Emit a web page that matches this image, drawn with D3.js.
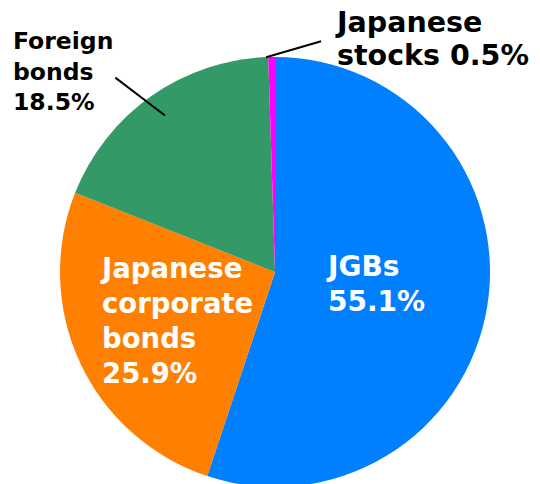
<!DOCTYPE html>
<html>
<head>
<meta charset="utf-8">
<script src="https://cdn.jsdelivr.net/npm/d3@7"></script>
<style>
  body { margin: 0; background: #fff; }
  text { font-family: 'DejaVu Sans', Verdana, sans-serif; font-weight: bold; }
</style>
</head>
<body>
<svg id="chart" width="540" height="484"></svg>
<script>
// shares of the portfolio, clockwise from 12 o'clock
var categories = ['JGBs', 'Japanese corporate bonds', 'Foreign bonds', 'Japanese stocks']
var shares = [55.1, 25.9, 18.5, 0.5]
var colors = ['#0080ff', '#ff8000', '#339966', '#ff00ff']
var labelLines = [
  ['JGBs', '55.1%'],
  ['Japanese', 'corporate', 'bonds', '25.9%'],
  ['Foreign', 'bonds', '18.5%'],
  ['Japanese', 'stocks 0.5%']
]

var width = 540, height = 484
var cx = 275, cy = 272, radius = 215

var svg = d3.select('#chart')
var g = svg.append('g').attr('transform', 'translate(' + cx + ',' + cy + ')')

var data = categories.map(function(c, i) {
  return { label: c, value: shares[i], lines: labelLines[i], color: colors[i] }
})

var pie = d3.pie().sort(null).value(function(d) { return d.value })
var arcs = pie(data)

var path = d3.arc().innerRadius(0).outerRadius(radius)

g.selectAll('.slice')
  .data(arcs)
  .enter()
  .append('path')
  .attr('class', 'slice')
  .attr('d', path)
  .attr('fill', function(d) { return d.data.color })

// label settings: offset of text block from center, font size, line height, fill
var labelCfg = [
  { x: 53, y: 4, size: 28, lh: 35, fill: '#fff' },
  { x: -173, y: 6, size: 27.5, lh: 35, fill: '#fff' },
  { x: -262, y: -223, size: 23.5, lh: 30.5, fill: '#000' },
  { x: 62, y: -240, size: 28.5, lh: 33, fill: '#000' }
]

arcs.forEach(function(a, i) {
  var c = labelCfg[i]
  var t = g.append('text')
    .attr('x', c.x)
    .attr('y', c.y)
    .style('font-size', c.size + 'px')
    .attr('fill', c.fill)
  a.data.lines.forEach(function(l, j) {
    t.append('tspan').attr('x', c.x).attr('y', c.y + j * c.lh).text(l)
  })
})

// leader lines
function polar(angle, r) {
  return [Math.sin(angle) * r, -Math.cos(angle) * r]
}
var fb = arcs[2]
var fbMid = (fb.startAngle + fb.endAngle) / 2
var p1 = polar(fbMid, radius * 0.89)
var p2 = polar(fbMid - 0.075, radius * 1.17)
g.append('line')
  .attr('x1', p1[0]).attr('y1', p1[1])
  .attr('x2', p2[0]).attr('y2', p2[1])
  .attr('stroke', '#000').attr('stroke-width', 2)

var js = arcs[3]
var q1 = polar(js.startAngle - 0.01, radius)
g.append('line')
  .attr('x1', q1[0]).attr('y1', q1[1])
  .attr('x2', q1[0] + 55).attr('y2', q1[1] - 16)
  .attr('stroke', '#000').attr('stroke-width', 2)
</script>
</body>
</html>
